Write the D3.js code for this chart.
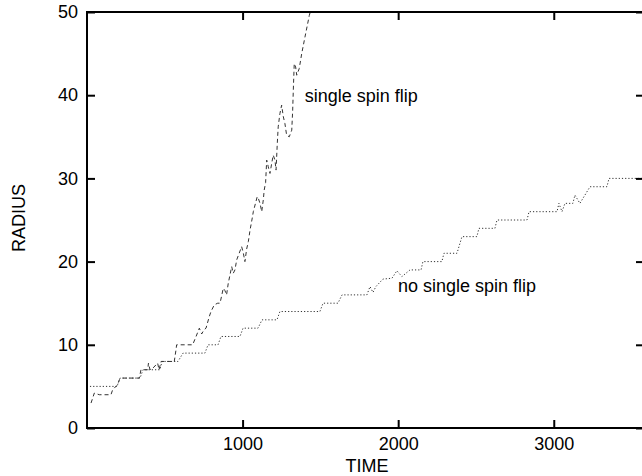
<!DOCTYPE html>
<html>
<head>
<meta charset="utf-8">
<script src="https://cdn.jsdelivr.net/npm/d3@7"></script>
<style>
  body { margin: 0; background: #fff; }
  text { font-family: "Liberation Sans", Arial, Helvetica, sans-serif; fill: #000; }
</style>
</head>
<body>
<div id="chart"></div>
<script>
// data (time, radius)
let spinFlipTime = [26, 47, 79, 154, 165, 197, 208, 219, 336, 347, 390, 395, 405, 424, 454, 463, 476, 561, 572, 576, 679, 701, 722, 737, 752, 765, 786, 797, 818, 840, 855, 876, 887, 897, 908, 930, 940, 951, 962, 994, 1005, 1015, 1026, 1037, 1048, 1058, 1069, 1080, 1094, 1101, 1112, 1123, 1133, 1139, 1148, 1155, 1165, 1176, 1187, 1197, 1208, 1215, 1223, 1229, 1240, 1251, 1262, 1272, 1283, 1300, 1316, 1322, 1326, 1332, 1341, 1348, 1364, 1380, 1401, 1429, 1435]
let spinFlipRadius = [3.0, 4.2, 4.0, 4.0, 4.6, 5.2, 5.8, 6, 6, 7, 7, 7.8, 7, 7.2, 7.8, 7, 8, 8, 9.4, 10, 10, 11, 12, 11.3, 11.8, 12, 13.4, 14, 14.8, 15, 15, 16.8, 16.5, 16, 17.4, 19.4, 18.6, 19, 20.2, 21.8, 21, 20, 21.5, 22.4, 23.8, 24.8, 26, 26.8, 27.8, 27.6, 27, 26, 27.4, 28.6, 29.5, 32.2, 31.4, 30.6, 31.8, 32.8, 32.2, 31, 34.2, 36.2, 37.8, 38.8, 37.4, 36.6, 35.2, 35.0, 35.8, 38.2, 40.6, 43.8, 43.4, 42.4, 43.2, 45, 47, 49.6, 50]

let noFlipTime = [19, 193, 212, 341, 360, 469, 482, 585, 617, 758, 778, 842, 861, 983, 1003, 1099, 1125, 1221, 1240, 1497, 1517, 1613, 1639, 1799, 1819, 1838, 1857, 1902, 1960, 1992, 2024, 2076, 2147, 2159, 2281, 2294, 2378, 2410, 2506, 2519, 2622, 2635, 2828, 2841, 3021, 3033, 3053, 3072, 3123, 3136, 3168, 3233, 3342, 3355, 3580]
let noFlipRadius = [5, 5, 6, 6, 7, 7, 8, 8, 9, 9, 10, 10, 11, 11, 12, 12, 13, 13, 14, 14, 15, 15, 16, 16, 17, 16.3, 17, 17.9, 18, 18.9, 18.2, 19, 19, 20, 20, 21, 21, 23, 23, 24, 24, 25, 25, 26, 26, 27, 26, 27, 27, 28, 27, 29, 29, 30, 30]

let timeTicks = [1000, 2000, 3000]
let radiusTicks = [0, 10, 20, 30, 40, 50]

let svgWidth = 642
let svgHeight = 476

let margin = {left: 87, right: -2, top: 12, bottom: 48}
let width = svgWidth - margin.left - margin.right
let height = svgHeight - margin.top - margin.bottom

let svg = d3.select('#chart')
    .append('svg')
    .attr('width', svgWidth)
    .attr('height', svgHeight)

let g = svg.append('g')
    .attr('transform', `translate(${margin.left},${margin.top})`)

let xScale = d3.scaleLinear().domain([0, 3580]).range([0, width])
let yScale = d3.scaleLinear().domain([0, 50]).range([height, 0])

let toPoints = (ts, rs) => ts.map((t, i) => ({t: t, r: rs[i]}))

let valueLine = d3.line()
    .x(d => xScale(d.t))
    .y(d => yScale(d.r))

g.append('clipPath').attr('id', 'clip')
    .append('rect').attr('width', width).attr('height', height)

let lines = g.append('g').attr('clip-path', 'url(#clip)')

// single spin flip: dashed
lines.append('path')
    .attr('d', valueLine(toPoints(spinFlipTime, spinFlipRadius)))
    .attr('fill', 'none')
    .attr('stroke', '#333')
    .attr('stroke-width', 1)
    .attr('stroke-dasharray', '4,3')

// no single spin flip: dotted
lines.append('path')
    .attr('d', valueLine(toPoints(noFlipTime, noFlipRadius)))
    .attr('fill', 'none')
    .attr('stroke', '#333')
    .attr('stroke-width', 1)
    .attr('stroke-dasharray', '1.2,2')

// axes with inward ticks, gnuplot style
let styleAxis = sel => {
    sel.select('.domain').remove()
    sel.selectAll('line').attr('stroke', '#000').attr('stroke-width', 2)
    sel.selectAll('text').style('font-size', '18px')
}

g.append('g')
    .attr('transform', `translate(0,${height})`)
    .call(d3.axisBottom(xScale).tickValues(timeTicks).tickSize(-8).tickPadding(9).tickFormat(d3.format('d')))
    .call(styleAxis)

g.append('g')
    .call(d3.axisTop(xScale).tickValues(timeTicks).tickSize(-8).tickFormat(''))
    .call(styleAxis)

g.append('g')
    .call(d3.axisLeft(yScale).tickValues(radiusTicks).tickSize(-8).tickPadding(9))
    .call(styleAxis)

g.append('g')
    .attr('transform', `translate(${width},0)`)
    .call(d3.axisRight(yScale).tickValues(radiusTicks).tickSize(-8).tickFormat(''))
    .call(styleAxis)

// frame
g.append('rect')
    .attr('width', width)
    .attr('height', height)
    .attr('fill', 'none')
    .attr('stroke', '#000')
    .attr('stroke-width', 2)

// labels
g.append('text')
    .attr('x', xScale(1400))
    .attr('y', yScale(39.2))
    .style('font-size', '18px')
    .text('single spin flip')

g.append('text')
    .attr('x', xScale(1999))
    .attr('y', yScale(16.3))
    .style('font-size', '18px')
    .text('no single spin flip')

svg.append('text')
    .attr('x', 367)
    .attr('y', 472)
    .attr('text-anchor', 'middle')
    .style('font-size', '18px')
    .text('TIME')

svg.append('text')
    .attr('transform', 'translate(25,218) rotate(-90)')
    .attr('text-anchor', 'middle')
    .style('font-size', '18px')
    .text('RADIUS')
</script>
</body>
</html>
